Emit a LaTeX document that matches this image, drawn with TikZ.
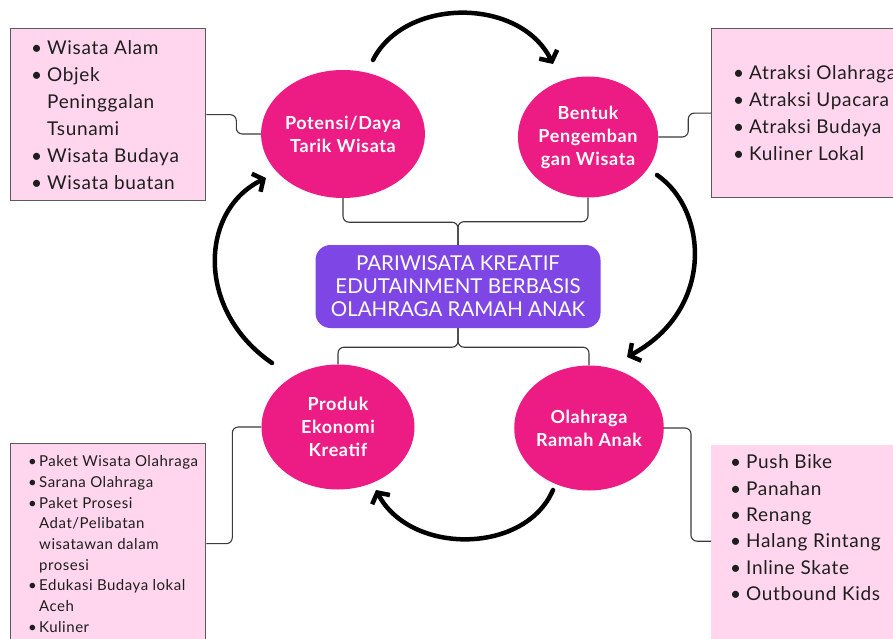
\documentclass[tikz,border=0pt]{standalone}
\usepackage{fontspec}
\setmainfont{Lato}[LetterSpace=3.5]
\newfontfamily\titlefont{Lato}
\usetikzlibrary{shapes.geometric,arrows.meta}
\definecolor{pinkc}{HTML}{EC1C84}
\definecolor{purp}{HTML}{7F46E6}
\definecolor{boxfill}{HTML}{FFD6EE}
\definecolor{boxline}{HTML}{5A5A5A}
\definecolor{conn}{HTML}{3A3A3A}
\definecolor{txt}{HTML}{1E1E1E}
\newcommand{\bl}{\makebox[16pt][l]{\textbullet}}
\newcommand{\nb}{\hspace*{16pt}}
\newcommand{\sbl}{\makebox[11pt][l]{\textbullet}}
\newcommand{\snb}{\hspace*{11pt}}
\begin{document}
\begin{tikzpicture}[x=1pt,y=-1pt,
 circ/.style={ellipse, fill=pinkc, text=white, font=\bfseries\fontsize{18}{23}\selectfont, align=center, inner sep=0pt},
 infobox/.style={fill=boxfill, draw=boxline, line width=1.3pt, anchor=north west},
 plainbox/.style={fill=boxfill, anchor=north west},
 list/.style={anchor=north west, inner sep=0pt, align=left, text=txt},
 link/.style={draw=conn, line width=1.1pt, rounded corners=6pt},
 cyc/.style={line width=4.5pt, line cap=round, -{Straight Barb[length=8pt,width=20pt]}}]
\useasboundingbox (0,0) rectangle (893,639);
\fill[white] (0,0) rectangle (893,639);

% info boxes
\node[infobox, minimum width=195pt, minimum height=172pt] (b1) at (10,28) {};
\node[infobox, minimum width=200pt, minimum height=169pt] (b2) at (711,28) {};
\node[infobox, minimum width=195pt, minimum height=200pt] (b3) at (10,443) {};
\node[plainbox, minimum width=200pt, minimum height=200pt] (b4) at (711,445) {};

% lists
\node[list, font=\fontsize{19}{27}\selectfont] (t1) at (31,40)
 {\bl Wisata Alam\\ \bl Objek\\ \nb Peninggalan\\ \nb Tsunami\\ \bl Wisata Budaya\\ \bl Wisata buatan};
\node[list, font=\fontsize{19}{27}\selectfont] (t2) at (733,65.5)
 {\bl Atraksi Olahraga\\ \bl Atraksi Upacara\\ \bl Atraksi Budaya\\ \bl Kuliner Lokal};
\node[list, font=\fontsize{15}{20.7}\selectfont] (t3) at (28,455.5)
 {\sbl Paket Wisata Olahraga\\ \sbl Sarana Olahraga\\ \sbl Paket Prosesi\\ \snb Adat/Pelibatan\\ \snb wisatawan dalam\\ \snb prosesi\\ \sbl Edukasi Budaya lokal\\ \snb Aceh\\ \sbl Kuliner};
\node[list, font=\fontsize{19}{26.4}\selectfont] (t4) at (730,454.5)
 {\bl Push Bike\\ \bl Panahan\\ \bl Renang\\ \bl Halang Rintang\\ \bl Inline Skate\\ \bl Outbound Kids};

% ellipses
\node[circ, minimum width=146pt, minimum height=128pt] (pot) at (343,134) {Potensi/Daya\\Tarik Wisata};
\node[circ, minimum width=136pt, minimum height=121pt] (ben) at (588,137) {Bentuk\\Pengemban\\gan Wisata};
\node[circ, minimum width=153pt, minimum height=125pt] (pro) at (338,427) {Produk\\Ekonomi\\Kreatif};
\node[circ, minimum width=138pt, minimum height=125pt] (ola) at (589,428) {Olahraga\\Ramah Anak};

% central box
\node[fill=purp, rounded corners=15pt, minimum width=285pt, minimum height=83pt, inner sep=0pt,
 text=white, font=\titlefont\fontsize{20.5}{23}\selectfont, align=center] (main) at (458,286.5)
 {PARIWISATA KREATIF\\EDUTAINMENT BERBASIS\\OLAHRAGA RAMAH ANAK};

% tree connectors
\draw[link] (pot.south) -- ++(0,24) -| (main.north);
\draw[link] (ben.south) -- ++(0,24) -| (main.north);
\draw[link] (main.south) -- ++(0,19) -| (pro.north);
\draw[link] (main.south) -- ++(0,19) -| (ola.north);

% side connectors
\draw[link] (b1.east) -- ++(30,0) |- (pot.west);
\draw[link] (ben.east) -- ++(30,0) |- (b2.west);
\draw[link] (pro.west) -- ++(-29,0) |- (b3.east);
\draw[link] (ola.east) -- ++(27,0) |- ([yshift=4pt]b4.west);

% cycle arrows
\coordinate (a1s) at (373,60);  \coordinate (a1e) at (553,64);
\coordinate (a2s) at (657,175); \coordinate (a2e) at (627,357);
\coordinate (a3s) at (553,490); \coordinate (a3e) at (376,490);
\coordinate (a4s) at (272,363); \coordinate (a4e) at (266,178);
\draw[cyc] (a1s) .. controls (405,-3) and (520,-3) .. (a1e);
\draw[cyc] (a2s) .. controls (708,210) and (715,310) .. (a2e);
\draw[cyc] (a3s) .. controls (525,555) and (410,555) .. (a3e);
\draw[cyc] (a4s) .. controls (195,310) and (200,210) .. (a4e);
\end{tikzpicture}
\end{document}
